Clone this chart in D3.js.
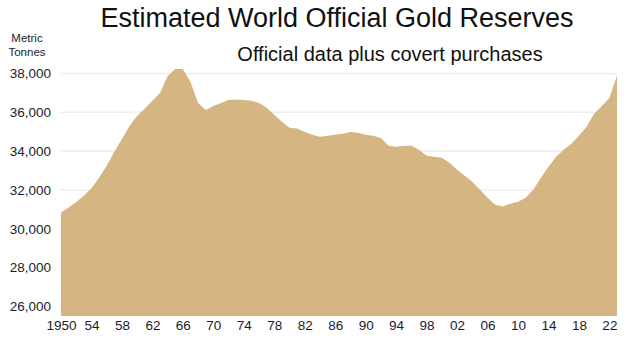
<!DOCTYPE html>
<html>
<head>
<meta charset="utf-8">
<script src="https://cdn.jsdelivr.net/npm/d3@7"></script>
<style>
  body { margin: 0; background: #fff; }
  text { font-family: "Liberation Sans", Arial, sans-serif; }
</style>
</head>
<body>
<svg id="chart" width="630" height="352"></svg>
<script>
// years and reserves (metric tonnes)
var years = [];
for (var yr = 1950; yr <= 2023; yr++) years.push(yr);
var tonnes = [
  30830, 31090, 31370, 31700, 32090, 32630, 33250, 33970, 34630, 35300,
  35820, 36180, 36590, 37000, 37870, 38230, 38230, 37560, 36480, 36120,
  36330, 36480, 36640, 36660, 36640, 36590, 36480, 36230, 35870, 35510,
  35200, 35170, 34990, 34840, 34740, 34790, 34840, 34890, 34990, 34940,
  34840, 34790, 34680, 34270, 34220, 34270, 34270, 34070, 33760, 33710,
  33660, 33400, 33040, 32730, 32420, 32010, 31600, 31240, 31140, 31290,
  31390, 31600, 32010, 32630, 33190, 33710, 34070, 34380, 34790, 35250,
  35920, 36330, 36740, 37900
];
var yTicks = [26000, 28000, 30000, 32000, 34000, 36000, 38000];
var xTicks = [1950, 1954, 1958, 1962, 1966, 1970, 1974, 1978, 1982, 1986, 1990, 1994, 1998, 2002, 2006, 2010, 2014, 2018, 2022];

var svg = d3.select("#chart");

var x = d3.scaleLinear().domain([1950, 2023]).range([61, 617]);
var y = d3.scaleLinear().domain([25500, 38000]).range([316, 73.5]);

// -- gridlines
svg.append("g")
  .selectAll("line")
  .data(yTicks)
  .enter()
  .append("line")
  .attr("x1", 61)
  .attr("x2", 617)
  .attr("y1", function(d) { return y(d); })
  .attr("y2", function(d) { return y(d); })
  .attr("stroke", "#eeeeee")
  .attr("stroke-width", 1.5);

// -- area
var area = d3.area()
  .x(function(d, i) { return x(years[i]); })
  .y0(y(25500))
  .y1(function(d) { return y(d); });

svg.append("path")
  .datum(tonnes)
  .attr("d", area)
  .attr("fill", "#d5b683");

// -- y axis labels
var yAxis = svg.append("g")
  .attr("transform", "translate(51,0)")
  .call(d3.axisLeft(y).tickValues(yTicks).tickSize(0).tickPadding(0).tickFormat(d3.format(",")));
yAxis.select(".domain").remove();
yAxis.selectAll("text")
  .attr("font-size", 13.5)
  .attr("font-family", "Liberation Sans, Arial, sans-serif")
  .attr("fill", "#1c1c2c");

// -- x axis labels
var xAxis = svg.append("g")
  .attr("transform", "translate(0,318)")
  .call(d3.axisBottom(x).tickValues(xTicks).tickSize(0).tickPadding(2)
    .tickFormat(function(d) { return d === 1950 ? "1950" : String(d % 100).padStart(2, "0"); }));
xAxis.select(".domain").remove();
xAxis.selectAll("text")
  .attr("font-size", 13.5)
  .attr("font-family", "Liberation Sans, Arial, sans-serif")
  .attr("fill", "#1c1c2c");

// -- titles
svg.append("text")
  .attr("x", 337)
  .attr("y", 27)
  .attr("text-anchor", "middle")
  .attr("font-size", 27)
  .attr("fill", "#111")
  .text("Estimated World Official Gold Reserves");

svg.append("text")
  .attr("x", 390)
  .attr("y", 61)
  .attr("text-anchor", "middle")
  .attr("font-size", 20)
  .attr("fill", "#111")
  .text("Official data plus covert purchases");

svg.append("text")
  .attr("x", 27)
  .attr("y", 42)
  .attr("text-anchor", "middle")
  .attr("font-size", 11.5)
  .attr("fill", "#1c1c2c")
  .text("Metric");
svg.append("text")
  .attr("x", 27)
  .attr("y", 56)
  .attr("text-anchor", "middle")
  .attr("font-size", 11.5)
  .attr("fill", "#1c1c2c")
  .text("Tonnes");
</script>
</body>
</html>
